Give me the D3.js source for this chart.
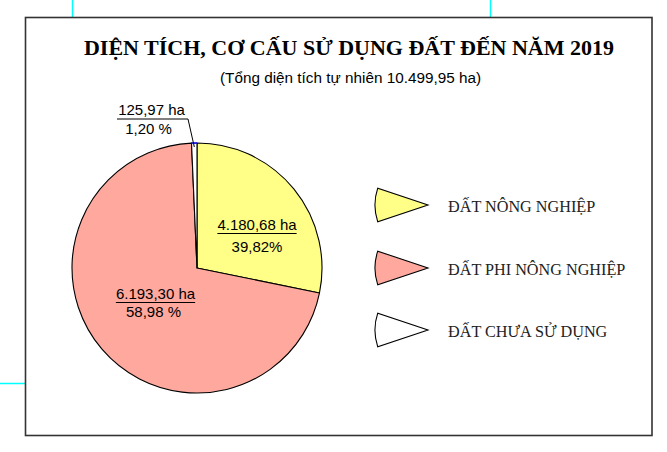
<!DOCTYPE html>
<html><head><meta charset="utf-8">
<script src="https://cdn.jsdelivr.net/npm/d3@7"></script>
<style>body{margin:0;background:#fff}svg{display:block}</style>
</head><body>
<svg id="c" width="667" height="452"></svg>
<script>
const categories = ["ĐẤT NÔNG NGHIỆP", "ĐẤT PHI NÔNG NGHIỆP", "ĐẤT CHƯA SỬ DỤNG"];
const areaLabels = ["4.180,68 ha", "6.193,30 ha", "125,97 ha"];
const percentLabels = ["39,82%", "58,98 %", "1,20 %"];
// slice shares as drawn in the picture (angles)
const drawnShare = [28.2, 71.1, 0.7];
const colors = ["#FFFF88", "#FFA89E", "#FFFFFF"];
const title = "DIỆN TÍCH, CƠ CẤU SỬ DỤNG ĐẤT ĐẾN NĂM 2019";
const subtitle = "(Tổng diện tích tự nhiên 10.499,95 ha)";

const svg = d3.select("#c");

// crop marks
svg.append("line").attr("x1",72.5).attr("x2",72.5).attr("y1",0).attr("y2",17).attr("stroke","#00FFFF").attr("stroke-width",1.5);
svg.append("line").attr("x1",490.5).attr("x2",490.5).attr("y1",0).attr("y2",17).attr("stroke","#00FFFF").attr("stroke-width",1.5);
svg.append("line").attr("x1",0).attr("x2",25).attr("y1",383.5).attr("y2",383.5).attr("stroke","#00FFFF").attr("stroke-width",1.5);

// frame
svg.append("rect").attr("x",25.5).attr("y",17.5).attr("width",626.5).attr("height",418)
  .attr("fill","none").attr("stroke","#333").attr("stroke-width",1.6);

svg.append("text").attr("x",349).attr("y",55).attr("text-anchor","middle")
  .attr("font-family","'Liberation Serif','Times New Roman',serif").attr("font-weight","bold")
  .attr("font-size",22).attr("fill","#000").text(title);
svg.append("text").attr("x",350.5).attr("y",83).attr("text-anchor","middle")
  .attr("font-family","'Liberation Sans',Arial,sans-serif")
  .attr("font-size",15.3).attr("fill","#000").text(subtitle);

// pie
const cx = 197, cy = 268, R = 125;
const g = svg.append("g").attr("transform",`translate(${cx},${cy})`);
const pie = d3.pie().sort(null).value(d => d)(drawnShare);
const arc = d3.arc().innerRadius(0).outerRadius(R);
g.selectAll("path.s").data(pie).join("path").attr("class","s")
  .attr("d",arc).attr("fill",(d,i)=>colors[i]).attr("stroke","#000").attr("stroke-width",1.1)
  .attr("stroke-linejoin","round");
// blue rim on small slice
g.append("path").attr("d", d3.arc().innerRadius(R).outerRadius(R)(pie[2]))
  .attr("fill","none").attr("stroke","#2020ff").attr("stroke-width",1.5);

const lf = "'Liberation Sans',Arial,sans-serif";
const fs = 15;
function label(x, y, a, p, py, ul) {
  const t1 = svg.append("text").attr("x",x).attr("y",y).attr("text-anchor","middle")
    .attr("font-family",lf).attr("font-size",fs).attr("fill","#000").text(a);
  if (ul) {
    const w = t1.node().getComputedTextLength();
    svg.append("line").attr("x1",x-w/2).attr("x2",x+w/2).attr("y1",y+3.5).attr("y2",y+3.5)
      .attr("stroke","#000").attr("stroke-width",1);
  }
  svg.append("text").attr("x",x - (py.dx||0)).attr("y",py.y).attr("text-anchor","middle")
    .attr("font-family",lf).attr("font-size",fs).attr("fill","#000").text(p);
}
label(257, 230, areaLabels[0], percentLabels[0], {y:252}, true);
label(155.5, 299, areaLabels[1], percentLabels[1], {y:317, dx:2}, true);
label(151.5, 115, areaLabels[2], percentLabels[2], {y:134, dx:3}, false);
// leader for small slice
const mid = (pie[2].startAngle + pie[2].endAngle)/2;
const tipR = R - 4;
svg.append("polyline")
  .attr("points", `117,119 188,119 ${cx + tipR*Math.sin(mid)},${cy - tipR*Math.cos(mid)}`)
  .attr("fill","none").attr("stroke","#000").attr("stroke-width",1);

// legend
const legY = [212, 275, 337];
const wedgeR = 53, half = 18.5 * Math.PI/180;
const wedge = d3.arc().innerRadius(0).outerRadius(wedgeR)
  .startAngle(-Math.PI/2 - half).endAngle(-Math.PI/2 + half);
const lg = svg.append("g");
categories.forEach((c, i) => {
  lg.append("path").attr("d", wedge())
    .attr("transform", `translate(428,${legY[i]-7})`)
    .attr("fill", colors[i]).attr("stroke","#000").attr("stroke-width",1.1);
  lg.append("text").attr("x",448).attr("y",legY[i])
    .attr("font-family","'Liberation Serif','Times New Roman',serif")
    .attr("font-size",16.2).attr("fill","#222").text(c);
});
</script>
</body></html>
